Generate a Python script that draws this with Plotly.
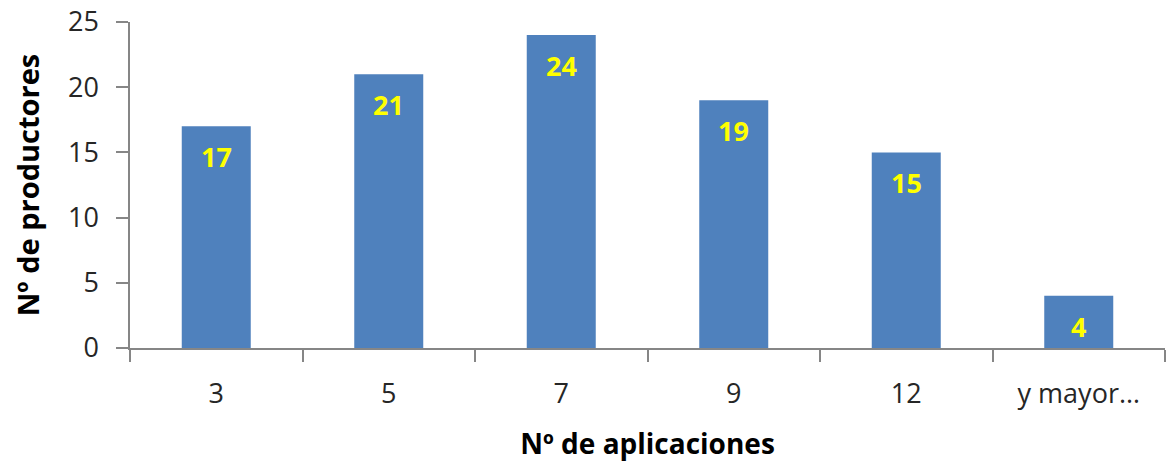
import plotly.graph_objects as go

# Número de aplicaciones (categorías) y número de productores
categorias = ["3", "5", "7", "9", "12", "y mayor…"]
productores = [17, 21, 24, 19, 15, 4]

color_barra = "#4F81BD"
color_eje = "#868686"
fuente = "Open Sans, Liberation Sans, sans-serif"

fig = go.Figure()
fig.add_trace(go.Bar(
    x=categorias,
    y=productores,
    marker=dict(color=color_barra, line=dict(width=0)),
    width=0.4,
    hoverinfo="x+y",
))

# Etiquetas de valor dentro de cada barra, cerca del extremo superior
for i, val in enumerate(productores):
    fig.add_annotation(
        x=i, y=val, xref="x", yref="y", text=f"<b>{val}</b>",
        showarrow=False, yanchor="top", yshift=-10,
        font=dict(family=fuente, size=27, color="#FFFF00"),
    )

fig.update_layout(
    width=1170, height=463,
    margin=dict(l=130, r=5, t=22, b=115),
    paper_bgcolor="white", plot_bgcolor="white",
    showlegend=False,
    bargap=0.6,
    font=dict(family=fuente, color="#262626"),
)

fig.update_xaxes(
    type="category",
    range=[-0.5, len(categorias) - 0.5],
    automargin=False,
    showline=True, linecolor=color_eje, linewidth=1.5,
    ticks="outside", tickson="boundaries", ticklen=12,
    tickcolor=color_eje, tickwidth=1.5,
    tickangle=0,
    tickfont=dict(family=fuente, size=27, color="#262626"),
    ticklabelstandoff=21,
    showgrid=False, zeroline=False,
    title=dict(text="<b>Nº de aplicaciones</b>", standoff=24,
               font=dict(family=fuente, size=28, color="#000000")),
)

fig.update_yaxes(
    range=[0, 25], dtick=5, tick0=0,
    automargin=False,
    showline=True, linecolor=color_eje, linewidth=1.5,
    ticks="outside", ticklen=12, tickcolor=color_eje, tickwidth=1.5,
    tickfont=dict(family=fuente, size=27, color="#262626"),
    ticklabelstandoff=12,
    showgrid=False, zeroline=False,
    title=dict(text="<b>Nº de productores</b>", standoff=20,
               font=dict(family=fuente, size=29, color="#000000")),
)

fig.write_html("out.html")
